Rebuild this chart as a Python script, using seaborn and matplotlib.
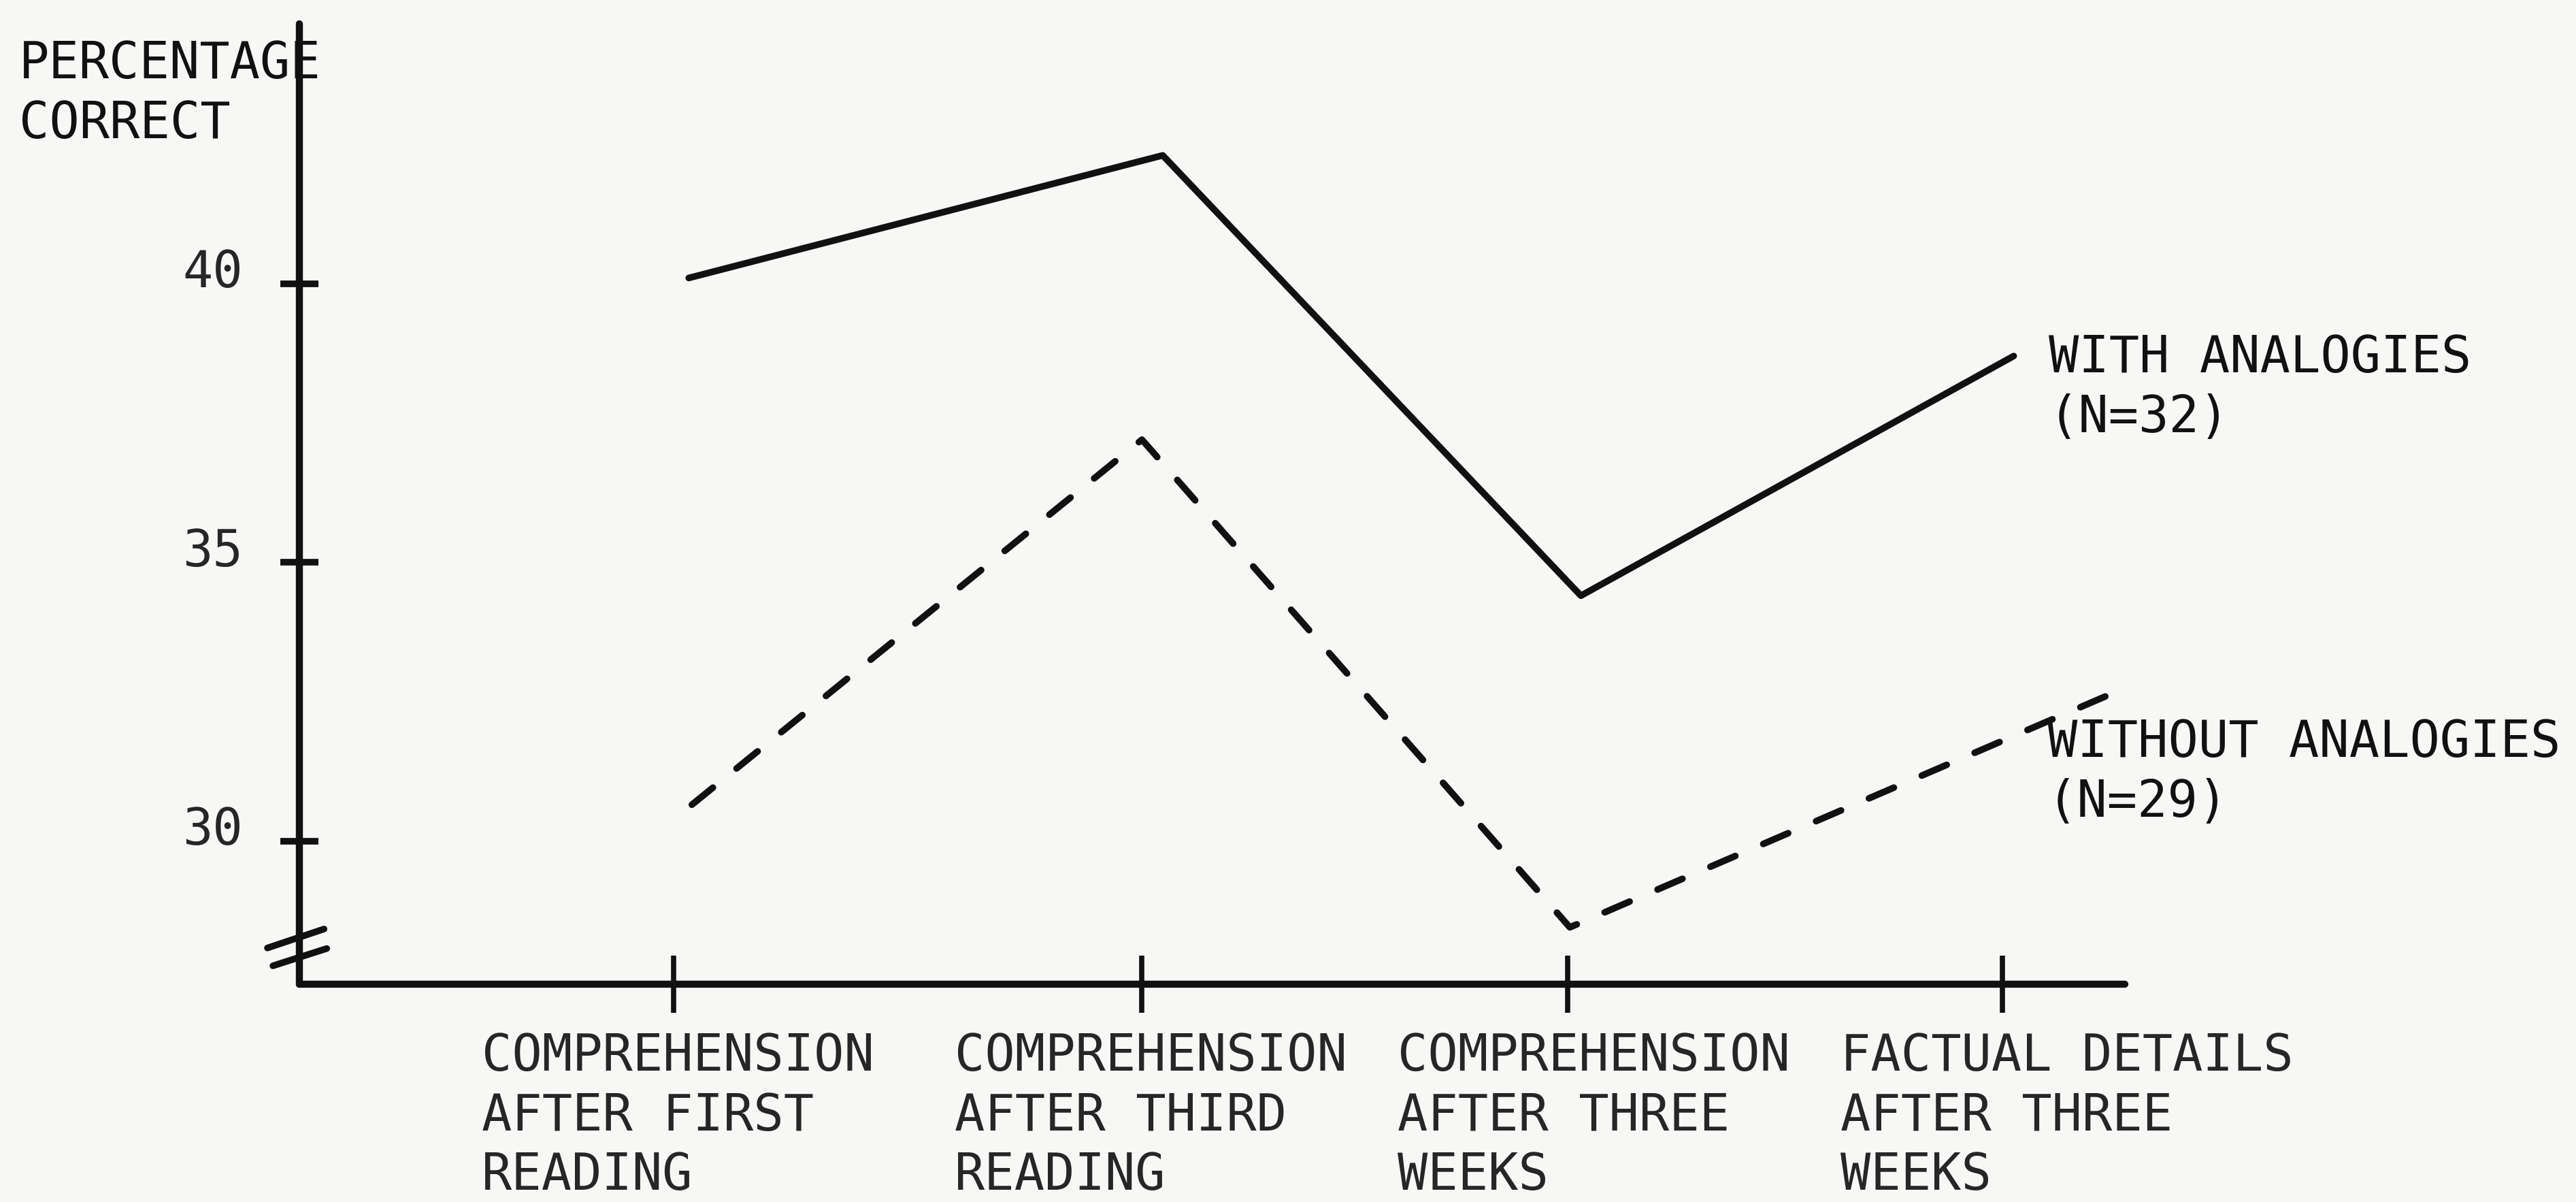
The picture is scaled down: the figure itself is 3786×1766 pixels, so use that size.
import pandas as pd
import numpy as np
import matplotlib
matplotlib.use("Agg")
import matplotlib.pyplot as plt
import matplotlib.transforms as mtransforms
import seaborn as sns

# data
stages = [
    "COMPREHENSION\nAFTER FIRST\nREADING",
    "COMPREHENSION\nAFTER THIRD\nREADING",
    "COMPREHENSION\nAFTER THREE\nWEEKS",
    "FACTUAL DETAILS\nAFTER THREE\nWEEKS",
]
stage_pos = [1.0, 2.057, 3.018, 4.0]

with_x = [1.034, 2.104, 3.048, 4.025]
with_pct = [40.1, 42.3, 34.4, 38.7]

without_x = [1.041, 2.057, 3.023, 4.234]
without_pct = [30.65, 37.2, 28.45, 32.6]

y_ticks = [30, 35, 40]

df = pd.concat([
    pd.DataFrame({"x": with_x, "pct": with_pct, "group": "with"}),
    pd.DataFrame({"x": without_x, "pct": without_pct, "group": "without"}),
])

sns.set_style("ticks")
mono = ["DejaVu Sans Mono"]
plt.rcParams["font.family"] = mono
plt.rcParams["text.color"] = "#111111"

W, H, DPI = 3787, 1766, 100
FS = 53
LS = 1.26
fig = plt.figure(figsize=(W / DPI, H / DPI), dpi=DPI)
fig.patch.set_facecolor("#f7f7f6")

ax_l, ax_r, ax_t, ax_b = 440, 3123, 35, 1446
ax = fig.add_axes([ax_l / W, 1 - ax_b / H, (ax_r - ax_l) / W, (ax_b - ax_t) / H])
ax.set_facecolor("none")

sns.lineplot(
    data=df, x="x", y="pct", style="group",
    dashes={"with": "", "without": (4.1, 4.6)},
    color="#111111", linewidth=7, sort=False, estimator=None,
    legend=False, ax=ax,
)
for ln in ax.get_lines():
    ln.set_dash_capstyle("round")
    ln.set_solid_capstyle("round")

ax.set_xlim(0.155, 4.276)
ax.set_ylim(27.43, 44.66)

for side in ["top", "right"]:
    ax.spines[side].set_visible(False)
for side in ["left", "bottom"]:
    ax.spines[side].set_linewidth(7.5)
    ax.spines[side].set_color("#111111")
    ax.spines[side].set_capstyle("round")

# ticks
ax.set_xticks(stage_pos)
ax.set_xticklabels(stages, fontsize=FS, family=mono, linespacing=LS)
ax.set_yticks(y_ticks)
ax.set_yticklabels([str(v) for v in y_ticks], fontsize=FS, family=mono)
ax.tick_params(axis="x", direction="inout", length=61, width=5.5, color="#111111", pad=0)
ax.tick_params(axis="y", direction="inout", length=40, width=7, color="#111111", pad=40)
ax.set_xlabel("")
ax.set_ylabel("")

x_offsets = [-282, -275, -250, -238]
for lab, dx in zip(ax.get_xticklabels(), x_offsets):
    lab.set_ha("left")
    lab.set_multialignment("left")
    lab.set_va("baseline")
    lab.set_transform(lab.get_transform() +
                      mtransforms.ScaledTranslation(dx / DPI, -260 / DPI, fig.dpi_scale_trans))
for lab in ax.get_yticklabels():
    lab.set_transform(lab.get_transform() +
                      mtransforms.ScaledTranslation(0, 23 / DPI, fig.dpi_scale_trans))

# axis break marks
for (x0, x1), (y0, y1) in [((-0.0175, 0.0135), (28.08, 28.42)),
                           ((-0.0145, 0.0150), (27.76, 28.07))]:
    ax.plot([x0, x1], [y0, y1], transform=ax.get_yaxis_transform(),
            color="#111111", lw=7, solid_capstyle="round", clip_on=False)

# axis title and series labels (baseline = last line)
fig.text(28 / W, 1 - 203 / H, "PERCENTAGE\nCORRECT", fontsize=FS, family=mono,
         ha="left", va="baseline", linespacing=LS)
fig.text(3011 / W, 1 - 635 / H, "WITH ANALOGIES\n(N=32)", fontsize=FS, family=mono,
         ha="left", va="baseline", linespacing=LS)
fig.text(3009 / W, 1 - 1200 / H, "WITHOUT ANALOGIES\n(N=29)", fontsize=FS, family=mono,
         ha="left", va="baseline", linespacing=LS)

fig.savefig("out.png", dpi=DPI, facecolor=fig.get_facecolor())
